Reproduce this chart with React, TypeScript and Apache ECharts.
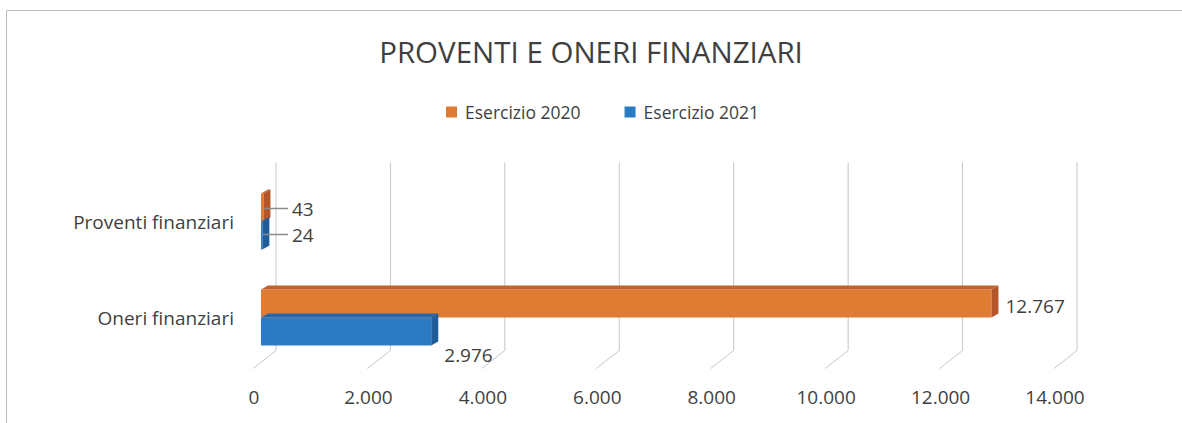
import React, { useEffect, useRef } from "react";
import * as echarts from "echarts";

const titleText = "PROVENTI E ONERI FINANZIARI";
const categories = ["Proventi finanziari", "Oneri finanziari"];
const seriesNames = ["Esercizio 2020", "Esercizio 2021"];
const values2020 = [43, 12767];
const values2021 = [24, 2976];
const xTicks = [0, 2000, 4000, 6000, 8000, 10000, 12000, 14000];

const FONT = "'Open Sans', 'Noto Sans', sans-serif";
const TEXT = "#3f3f3f";
const FRONT = ["#E07B33", "#2B7BC2"];
const TOP = ["#C4602A", "#2567AA"];
const SIDE = ["#B4552A", "#1E5D9A"];
const LABEL_SIZE = 19;

const fmt = (v: number) => v.toLocaleString("de-DE");

function barRender(sIdx: number) {
  return (params: any, api: any) => {
    const v = api.value(0);
    const cat = api.value(1);
    const c = api.coord([0, cat]);
    const x0 = c[0];
    const x1 = api.coord([v, cat])[0];
    const cy = c[1];
    const h = 28;
    const yTop = sIdx === 0 ? cy - h : cy;
    const yBot = yTop + h;
    const dx = 7;
    const dy = -4;
    const children: any[] = [
      {
        type: "rect",
        shape: { x: x0, y: yTop, width: Math.max(x1 - x0, 0.8), height: h },
        style: { fill: FRONT[sIdx] },
      },
      {
        type: "polygon",
        shape: {
          points: [
            [x0, yTop],
            [x1, yTop],
            [x1 + dx, yTop + dy],
            [x0 + dx, yTop + dy],
          ],
        },
        style: { fill: TOP[sIdx] },
      },
      {
        type: "polygon",
        shape: {
          points: [
            [x1, yTop],
            [x1 + dx, yTop + dy],
            [x1 + dx, yBot + dy],
            [x1, yBot],
          ],
        },
        style: { fill: SIDE[sIdx] },
      },
    ];
    const midY = (yTop + yBot) / 2;
    const small = v < 500;
    const font = `${LABEL_SIZE}px ${FONT}`;
    if (small) {
      const ly = sIdx === 0 ? midY + 1 : midY - 1;
      children.push({
        type: "line",
        shape: { x1: x0 + 2, y1: ly, x2: x0 + 27, y2: ly },
        style: { stroke: "#8c8c8c", lineWidth: 1.5 },
      });
      children.push({
        type: "text",
        style: {
          x: x0 + 31,
          y: ly,
          text: fmt(v),
          fill: TEXT,
          font,
          verticalAlign: "middle",
          align: "left",
        },
      });
    } else if (sIdx === 1) {
      children.push({
        type: "text",
        style: {
          x: x1 + 13,
          y: yBot + 9,
          text: fmt(v),
          fill: TEXT,
          font,
          verticalAlign: "middle",
          align: "left",
        },
      });
    } else {
      children.push({
        type: "text",
        style: {
          x: x1 + dx + 7,
          y: midY + 2,
          text: fmt(v),
          fill: TEXT,
          font,
          verticalAlign: "middle",
          align: "left",
        },
      });
    }
    return { type: "group", children };
  };
}

function gridRender(params: any, api: any) {
  const v = api.value(0);
  const x = api.coord([v, 0])[0];
  const cs = params.coordSys;
  const top = cs.y - 11;
  const bottom = cs.y + cs.height - 15;
  return {
    type: "group",
    children: [
      {
        type: "line",
        shape: { x1: x + 15, y1: top, x2: x + 15, y2: bottom },
        style: { stroke: "#c6c6c6", lineWidth: 1 },
      },
      {
        type: "line",
        shape: { x1: x + 15, y1: bottom, x2: x - 8, y2: bottom + 18 },
        style: { stroke: "#c6c6c6", lineWidth: 1 },
      },
    ],
  };
}

export default function App() {
  const ref = useRef<HTMLDivElement>(null);
  useEffect(() => {
    if (!ref.current) return;
    const chart = echarts.init(ref.current, undefined, { renderer: "svg" });
    chart.setOption({
      animation: false,
      backgroundColor: "#ffffff",
      title: {
        text: titleText,
        left: "center",
        top: 31,
        textStyle: {
          fontFamily: FONT,
          fontSize: 29.5,
          fontWeight: "normal",
          color: TEXT,
        },
      },
      legend: {
        top: 98,
        left: 441,
        icon: "rect",
        itemWidth: 11,
        itemHeight: 11,
        itemGap: 44,
        textStyle: {
          fontFamily: FONT,
          fontSize: 17.5,
          color: TEXT,
          padding: [0, 0, 0, 3],
        },
        data: [
          { name: seriesNames[0], itemStyle: { color: FRONT[0] } },
          { name: seriesNames[1], itemStyle: { color: FRONT[1] } },
        ],
      },
      graphic: [
        {
          type: "polyline",
          shape: {
            points: [
              [6.5, 430],
              [6.5, 10.5],
              [1190, 10.5],
            ],
          },
          style: { stroke: "#bdbdbd", lineWidth: 1, fill: "none" },
          silent: true,
        },
      ],
      grid: {
        left: 261,
        right: 120,
        top: 173.5,
        height: 192,
        containLabel: false,
      },
      xAxis: {
        type: "value",
        min: 0,
        max: 14000,
        interval: 2000,
        axisLine: { show: false },
        axisTick: { show: false },
        splitLine: { show: false },
        axisLabel: {
          margin: 22,
          padding: [0, 14, 0, 0],
          fontFamily: FONT,
          fontSize: LABEL_SIZE,
          color: TEXT,
          formatter: (v: number) => fmt(v),
        },
      },
      yAxis: {
        type: "category",
        data: categories,
        inverse: true,
        axisLine: { show: false },
        axisTick: { show: false },
        splitLine: { show: false },
        axisLabel: {
          margin: 27,
          padding: [17, 0, 0, 0],
          fontFamily: FONT,
          fontSize: LABEL_SIZE,
          color: TEXT,
        },
      },
      series: [
        {
          type: "custom",
          name: "grid",
          silent: true,
          renderItem: gridRender,
          data: xTicks.map((t) => [t, 0]),
          z: 1,
        },
        {
          type: "custom",
          name: seriesNames[0],
          renderItem: barRender(0),
          itemStyle: { color: FRONT[0] },
          data: values2020.map((v, i) => [v, i]),
          encode: { x: 0, y: 1 },
          z: 3,
        },
        {
          type: "custom",
          name: seriesNames[1],
          renderItem: barRender(1),
          itemStyle: { color: FRONT[1] },
          data: values2021.map((v, i) => [v, i]),
          encode: { x: 0, y: 1 },
          z: 3,
        },
      ],
    });
    return () => chart.dispose();
  }, []);
  return (
    <div
      ref={ref}
      style={{ position: "fixed", left: 0, top: 0, width: 1182, height: 423 }}
    />
  );
}
